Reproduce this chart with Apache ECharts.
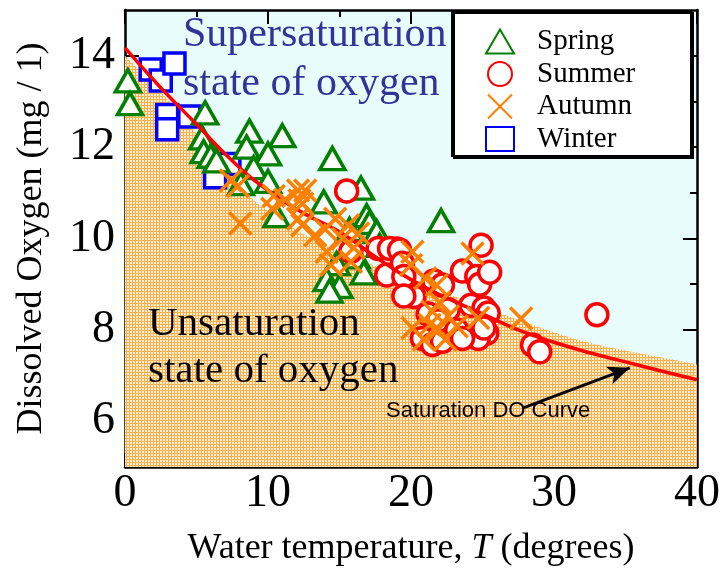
<!DOCTYPE html>
<html><head><meta charset="utf-8">
<script src="https://cdn.jsdelivr.net/npm/echarts@6/dist/echarts.min.js"></script>
<style>html,body{margin:0;padding:0;background:#fff}#c{width:723px;height:568px}</style>
</head><body><div id="c"></div>
<script>
// ---- data ----
const spring = [
  [0.2,13.45],[0.35,12.95],
  [5.6,12.75],[5.4,12.2],[5.5,11.9],[6.0,11.8],[6.4,11.7],
  [8.7,12.35],[8.5,12.0],[11.0,12.25],[10.0,11.85],[9.0,11.55],[8.1,11.2],[10.0,11.25],[10.6,10.5],
  [14.5,11.75],[16.5,11.1],[13.9,10.8],[16.9,10.5],[17.1,10.35],[17.6,10.15],[17.8,9.85],
  [15.7,10.2],[16.2,9.6],
  [14.8,9.45],[14.1,9.1],[15.0,8.95],[14.3,8.85],[16.7,9.25],
  [22.1,10.39]
];
const summer = [
  [15.5,11.04],
  [15.8,9.72],[17.7,9.78],[19.0,9.77],[18.5,9.78],[19.2,9.75],
  [18.3,9.2],[19.4,9.46],[19.5,9.17],[20.2,8.73],[19.5,8.74],
  [21.6,9.07],[22.2,8.98],[21.2,8.35],[22.6,8.44],[20.8,7.81],[21.5,7.68],[22.2,7.75],
  [21.9,8.2],[23.2,8.0],
  [23.6,9.29],[24.6,9.17],[24.8,9.0],[24.9,9.85],[24.2,8.54],[25.1,8.48],[25.3,7.93],[24.7,7.81],[23.6,7.81],
  [25.5,9.26],[25.4,8.37],[25.1,8.04],
  [28.5,7.67],[29.0,7.52],[33.0,8.33]
];
const autumn = [
  [7.4,11.27],[7.9,11.15],[8.06,10.33],
  [10.4,10.93],[10.3,10.65],[11.2,10.85],[12.1,11.05],[12.4,10.76],[12.6,11.05],[12.2,10.83],[12.1,10.43],[12.4,10.29],
  [13.3,10.07],[14.1,9.71],[14.7,10.43],[15.6,10.29],[16.3,10.11],[15.8,9.49],[14.4,9.42],[15.2,10.0],[16.0,9.8],[14.0,10.2],
  [20.1,9.71],[20.0,9.42],[21.0,9.13],[21.8,8.98],[24.3,9.67],[22.6,8.3],[20.1,8.04],[21.3,8.11],[21.9,8.01],
  [20.9,7.79],[23.2,8.08],[24.7,8.26],[22.4,7.79],[27.7,8.25],[21.5,8.4],[22.0,8.6]
];
const winter = [
  [1.8,13.7],[2.5,13.46],[3.46,13.83],[2.95,12.7],[2.95,12.39],[4.5,12.67],[7.3,11.63],[6.3,11.34]
];
// saturation DO curve (red line)
const curveT  = [0,2.5,5,7.5,10,12.5,15,17.5,20,22.5,25,27.5,30,32.5,35,37.5,40];
const curveDO = [14.17,13.3,12.5,11.7,11.05,10.55,10.15,9.6,9.1,8.7,8.35,8.0,7.73,7.5,7.3,7.1,6.91];
// boundary of the "unsaturation" shaded region
const shadeT  = [0,2.5,5,7.5,10,12.5,15,17.5,20,22.5,25,27.5,30,32.5,35,37.5,40];
const shadeDO = [14.0,13.2,12.3,11.3,10.6,10.1,9.7,9.4,9.1,8.8,8.5,8.22,7.95,7.72,7.55,7.4,7.24];
// arrow annotation (data coords)
const arrowFrom = [27.9,6.3];
const arrowTo   = [35.3,7.17];
const yMajor = [6,8,10,12,14];
const yMinor = [7,9,11,13];

const SERIF = "'Liberation Serif','Times New Roman',serif";
const zip = (a,b)=>a.map((v,i)=>[v,b[i]]);

const pat = document.createElement('canvas');
pat.width = 3; pat.height = 3;
const g = pat.getContext('2d');
g.fillStyle = '#ffeed0'; g.fillRect(0,0,3,3);
g.fillStyle = '#f8b050'; g.fillRect(0,0,3,1); g.fillRect(0,0,1,3);

const chart = echarts.init(document.getElementById('c'), null, {renderer:'canvas'});
const axisLine = {show:true, lineStyle:{color:'#000', width:2.5}};
const yAxisBase = (pos, vals, len, labels, line) => ({
  type:'value', min:5, max:15, position:pos, offset:0,
  splitLine:{show:false},
  axisLine: line ? axisLine : {show:false},
  axisTick:{show:true, inside:true, length:len, customValues:vals, lineStyle:{color:'#000', width:2}},
  axisLabel: labels ? {show:true, customValues:vals, fontFamily:SERIF, fontSize:46, color:'#000', margin:10} : {show:false}
});
const opt = {
  animation:false,
  grid:{left:125, right:26, top:10, bottom:101, show:true, backgroundColor:'#e8fcfc', borderWidth:0,
        outerBoundsMode:'none', containLabel:false},
  xAxis:[
    {type:'value', min:0, max:40, interval:10, position:'bottom',
     name:'{a|Water temperature, }{i|T}{a| (degrees)}', nameLocation:'middle', nameGap:64,
     nameTextStyle:{rich:{a:{fontFamily:SERIF, fontSize:36, color:'#000'}, i:{fontFamily:SERIF, fontSize:36, fontStyle:'italic', color:'#000'}}},
     splitLine:{show:false}, axisLine:axisLine,
     axisTick:{inside:true, length:14, lineStyle:{color:'#000', width:2}},
     minorTick:{show:true, splitNumber:2, length:7, lineStyle:{color:'#000', width:2}},
     axisLabel:{fontFamily:SERIF, fontSize:46, color:'#000', margin:4, showMinLabel:true, showMaxLabel:true}},
    {type:'value', min:0, max:40, interval:10, position:'top',
     splitLine:{show:false}, axisLine:axisLine,
     axisTick:{inside:true, length:14, lineStyle:{color:'#000', width:2}},
     minorTick:{show:true, splitNumber:2, length:7, lineStyle:{color:'#000', width:2}},
     axisLabel:{show:false}}
  ],
  yAxis:[
    Object.assign(yAxisBase('left', yMajor, 14, true, true), {
      name:'Dissolved Oxygen (mg / 1)', nameLocation:'middle', nameGap:75,
      nameTextStyle:{fontFamily:SERIF, fontSize:36, color:'#000'}}),
    yAxisBase('left', yMinor, 7, false, false),
    yAxisBase('right', yMajor, 14, false, true),
    yAxisBase('right', yMinor, 7, false, false)
  ],
  legend:{
    orient:'vertical', left:480, top:22, itemGap:3.5, itemWidth:28, itemHeight:24,
    data:['Spring','Summer','Autumn','Winter'],
    textStyle:{fontFamily:SERIF, fontSize:29, color:'#000', padding:[0,0,0,18]}
  },
  graphic:[
    {type:'rect', z:3, shape:{x:452, y:11, width:239, height:145},
     style:{fill:'#fff', stroke:'#000', lineWidth:2, shadowColor:'#000', shadowOffsetX:2, shadowOffsetY:2, shadowBlur:0}},
    {type:'text', z:100, style:{text:'Supersaturation', x:183, y:35, font:"42px 'Liberation Serif','Times New Roman',serif", fill:'#333399', textVerticalAlign:'middle'}},
    {type:'text', z:100, style:{text:'state of oxygen', x:183, y:84, font:"42px 'Liberation Serif','Times New Roman',serif", fill:'#333399', textVerticalAlign:'middle'}},
    {type:'text', z:100, style:{text:'Unsaturation', x:148, y:324, font:"41px 'Liberation Serif','Times New Roman',serif", fill:'#000', textVerticalAlign:'middle'}},
    {type:'text', z:100, style:{text:'state of oxygen', x:148, y:371, font:"41px 'Liberation Serif','Times New Roman',serif", fill:'#000', textVerticalAlign:'middle'}},
    {type:'text', z:100, style:{text:'Saturation DO Curve', x:386, y:411, font:"22px 'Liberation Sans','Arial',sans-serif", fill:'#000', textVerticalAlign:'middle'}}
  ],
  series:[
    {type:'line', name:'shade', data:zip(shadeT,shadeDO), smooth:true, symbol:'none', z:1,
     lineStyle:{width:0}, areaStyle:{color:{image:pat, repeat:'repeat'}, opacity:1, origin:'start'}, silent:true},
    {type:'scatter', name:'Winter', data:winter, symbol:'rect', symbolSize:21, z:4,
     itemStyle:{color:'#fff', borderColor:'#0000ff', borderWidth:3.5, opacity:1}},
    {type:'scatter', name:'Spring', data:spring, symbol:'triangle', symbolSize:[25,22], z:5,
     itemStyle:{color:'#fff', borderColor:'#008000', borderWidth:3.5, opacity:1}},
    {type:'scatter', name:'Summer', data:summer, symbol:'circle', symbolSize:22, z:6,
     itemStyle:{color:'#fff', borderColor:'#ff0000', borderWidth:3.5, opacity:1}},
    {type:'line', name:'curve', data:zip(curveT,curveDO), smooth:true, symbol:'none', z:7,
     lineStyle:{color:'#ff0000', width:3.5}, silent:true,
     markLine:{silent:true, symbol:['none','arrow'], symbolSize:[14,22], label:{show:false},
       lineStyle:{color:'#000', width:3, type:'solid'},
       data:[[{coord:arrowFrom},{coord:arrowTo}]]}},
    {type:'scatter', name:'Autumn', data:autumn, symbol:'path://M0,0L20,20M20,0L0,20', symbolSize:22, z:8,
     itemStyle:{color:'rgba(0,0,0,0)', borderColor:'#ff8000', borderWidth:3.5, opacity:1}}
  ]
};
chart.setOption(opt);
</script></body></html>
